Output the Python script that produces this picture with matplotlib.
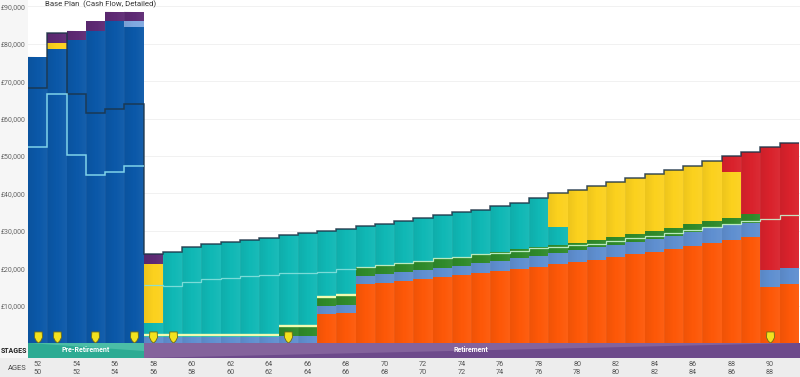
import numpy as np
import matplotlib
matplotlib.use("Agg")
import matplotlib.pyplot as plt
from matplotlib.path import Path

plt.rcParams['font.family'] = ['Roboto', 'DejaVu Sans']

# values in thousands of pounds, one per yearly bar (40 bars)
orange = [0]*15 + [7.75, 7.9, 15.8, 16.1, 16.6, 17.1, 17.6, 18.2, 18.6, 19.3, 19.8, 20.4, 21.1, 21.7, 22.2,
                   22.9, 23.7, 24.4, 25.1, 25.9, 26.7, 27.5, 28.3, 15.1, 15.8]
blue_top = [0]*6 + [1.6]*7 + [2.0, 2.0, 9.9, 10.2, 18.0, 18.4, 18.9, 19.5, 20.1, 20.7, 21.3, 22.0, 22.6, 23.3,
                    24.0, 24.8, 25.6, 26.2, 27.1, 27.7, 28.6, 29.8, 30.7, 31.5, 32.2, 19.5, 20.0]
green_top = [0]*6 + [1.6]*7 + [4.2, 4.2, 12.2, 12.6, 20.4, 20.9, 21.5, 21.9, 22.6, 23.1, 23.7, 24.3, 25.1, 25.6,
                     26.2, 26.8, 27.5, 28.3, 29.1, 29.9, 30.8, 31.7, 32.6, 33.3, 34.4, 19.5, 20.0]
teal_top = [0]*6 + [5.4, 24.4, 25.7, 26.4, 27.1, 27.5, 28.2, 28.9, 29.3, 29.9, 30.6, 31.2, 31.8, 32.6, 33.3, 34.1,
                    34.9, 35.6, 36.5, 37.3, 38.9, 30.9, 26.8, 27.5, 28.3, 29.1, 29.9, 30.8, 31.7, 32.6, 33.3,
                    34.4, 19.5, 20.0]
yellow_top = [0]*6 + [21.0] + teal_top[7:27] + [40.0, 40.9, 42.0, 43.0, 44.0, 45.2, 46.3, 47.4, 48.7, 45.6,
                                                34.4, 19.5, 20.0]
red_top = yellow_top[:36] + [50.0, 51.0, 52.3, 53.6]
navy_top = [76.5, 78.6, 81.0, 83.5, 86.0, 84.5]
yellow_early = 80.3
pale_blue_top = 86.0
purple_bottom = [76.5, 80.3, 81.0, 83.5, 86.0, 86.0, 21.0]
total = [76.5, 82.8, 83.5, 86.0, 88.6, 88.6, 23.8] + red_top[7:]

dark_line = [68.3, 82.8, 66.7, 61.6, 62.7, 64.0] + total[6:]
light_pre = [52.3, 66.5, 50.3, 45.0, 45.8, 47.2]
light_mid = [15.5, 15.3, 16.4, 17.0, 17.5, 17.8, 18.2, 18.6, 18.7, 19.1, 19.7]
light_late = [20.4, 20.9, 21.5, 21.9, 22.6, 23.1, 23.7, 24.1, 24.7, 25.3, 25.8, 26.2, 26.6, 27.4, 28.0, 28.7,
              29.3, 30.2, 30.9, 31.7, 32.6, 33.2, 34.2]
pale_line = [2.1]*7 + [4.5, 4.5, 12.4, 12.8]
pale_idx = [6, 7, 8, 9, 10, 11, 12, 13, 14, 15, 16]

marker_bars = [0, 1, 3, 5, 6, 7, 13, 38]
age_a = list(range(52, 92, 2))
age_b = list(range(50, 90, 2))
yticks = [10, 20, 30, 40, 50, 60, 70, 80, 90]
title = "Base Plan  (Cash Flow, Detailed)"

W, H = 800, 377
BW = 19.27
X0 = 28
PPK = 3.74
Y0 = 343
C = dict(orange='#fd5808', blue='#5f8fd0', green='#2f8a2a', teal='#10b8b5', yellow='#fbd11e',
         red='#d9222c', navy='#0b58a8', purple='#5e2a74', pale='#7fa8e0')

fig = plt.figure(figsize=(W/100, H/100), dpi=100, facecolor='white')


def px_axes(l, t, r, b):
    return fig.add_axes([l/W, 1-b/H, (r-l)/W, (b-t)/H])


gut = px_axes(0, 0, X0, Y0)
gut.set_axis_off()
gut.set_xlim(0, 1); gut.set_ylim(0, 1)
gut.axvspan(0, 1, color='#f6f6f6', lw=0)

ax = px_axes(X0, 0, W, Y0)
ax.patch.set_alpha(0)
n = len(total)
xs = np.arange(n)
XR = (W-X0)/BW-0.5
for s in ax.spines.values():
    s.set_visible(False)
ax.set_xticks([])
ax.set_yticks(yticks)
ax.set_yticklabels([f'£{v},000' for v in yticks], fontsize=5.0, color='#666666')
ax.tick_params(axis='y', length=0, pad=1.5)
ax.yaxis.grid(True, color='#f1f1f1', lw=0.7)
ax.set_axisbelow(True)


def stack(tops, bottoms, col):
    t = np.array(tops, float); b = np.array(bottoms, float)
    ax.bar(xs, np.clip(t-b, 0, None), bottom=b, width=1.0, color=C[col], lw=0, zorder=2)


stack(orange, [0]*n, 'orange')
stack(blue_top, orange, 'blue')
stack(green_top, blue_top, 'green')
stack(teal_top, green_top, 'teal')
stack(yellow_top, teal_top, 'yellow')
stack(red_top, yellow_top, 'red')

ax.bar(xs[:6], navy_top, width=1.0, color=C['navy'], lw=0, zorder=2)
ax.bar(1, yellow_early-navy_top[1], bottom=navy_top[1], width=1.0, color=C['yellow'], lw=0, zorder=2)
ax.bar(5, pale_blue_top-navy_top[5], bottom=navy_top[5], width=1.0, color=C['pale'], lw=0, zorder=2)
ax.bar(xs[:7], np.array(total[:7])-np.array(purple_bottom), bottom=purple_bottom, width=1.0,
       color=C['purple'], lw=0, zorder=2)

# per-bar shading
t = np.linspace(0, 1, 32)
grad = np.zeros((1, 32, 4))
grad[0, :, :3] = np.where(t[:, None] < 0.5, 0.0, 1.0)
grad[0, :, 3] = np.where(t < 0.5, 0.06, 0.05)*np.abs(1-2*t)
for i in range(n):
    ax.imshow(grad, extent=(i-0.5, i+0.5, 0, total[i]), aspect='auto', zorder=3, interpolation='bilinear')
ax.set_xlim(-0.5, XR)
ax.set_ylim(0, Y0/PPK)

edges = np.arange(n+1)-0.5
ax.stairs(dark_line, edges, baseline=None, color='#1c3346', lw=1.1, alpha=0.85, zorder=5)
ax.stairs(light_pre, edges[:7], baseline=None, color='#7fd3ea', lw=1.1, zorder=6)
ax.stairs(light_mid, edges[6:18], baseline=None, color='#86e0dc', lw=0.9, alpha=0.9, zorder=6)
ax.stairs(light_late, edges[17:], baseline=None, color='#c8f5d0', lw=0.9, alpha=0.9, zorder=6)
ax.hlines(pale_line, np.array(pale_idx)-0.5, np.array(pale_idx)+0.5, color='#f2fbb0', lw=1.7, zorder=6)

# markers (shield shape)
shield = Path([(-0.33, 0.5), (0.33, 0.5), (0.36, 0.0), (0.2, -0.32), (0.0, -0.5), (-0.2, -0.32), (-0.36, 0.0),
               (-0.33, 0.5)], closed=True)
ax.plot(marker_bars, [1.7]*len(marker_bars), ls='none', marker=shield, ms=8, mfc='#f3e21e', mec='#6b6a1a',
        mew=0.6, zorder=8, clip_on=False)

fig.text(45/W, 1-4.5/H, title, fontsize=5.6, color='#333333', ha='left', va='center')

# stage band
st = px_axes(X0, Y0, W, 358)
st.set_xlim(-0.5, XR); st.set_ylim(0, 1)
st.set_axis_off()
split = 5.5
st.axvspan(-0.5, split, color='#2cab93', lw=0)
st.axvspan(split, XR, color='#84639c', lw=0)
st.fill([-0.5, split, split], [1, 1, 0.45], color='#4bbda6', lw=0)
st.fill([split, XR, XR], [0, 0, 1], color='#6d4a8b', lw=0)
st.text(2.5, 0.55, 'Pre-Retirement', color='white', fontsize=5, fontweight='bold', ha='center', va='center')
st.text(22.5, 0.55, 'Retirement', color='white', fontsize=5, fontweight='bold', ha='center', va='center')

sl = px_axes(0, Y0, X0, 358)
sl.set_axis_off(); sl.set_xlim(0, 1); sl.set_ylim(0, 1)
sl.axvspan(0, 1, color='#f6f6f6', lw=0)
sl.text(0.97, 0.45, 'STAGES', fontsize=5.0, fontweight='bold', color='#222222', ha='right', va='center')

bt = px_axes(0, 358, W, H)
bt.set_axis_off(); bt.set_xlim(0, W); bt.set_ylim(H, 358)
bt.axvspan(0, W, color='#ededed', lw=0)
bt.text(27, 368, 'AGES', fontsize=5.4, color='#444444', ha='right', va='center')
for i, (a, b) in enumerate(zip(age_a, age_b)):
    px = X0 + BW*(2*i+0.5)
    bt.text(px, 364.5, str(a), fontsize=5.2, color='#555555', ha='center', va='center')
    bt.text(px, 372.5, str(b), fontsize=5.2, color='#555555', ha='center', va='center')

fig.savefig('out.png', dpi=100)
